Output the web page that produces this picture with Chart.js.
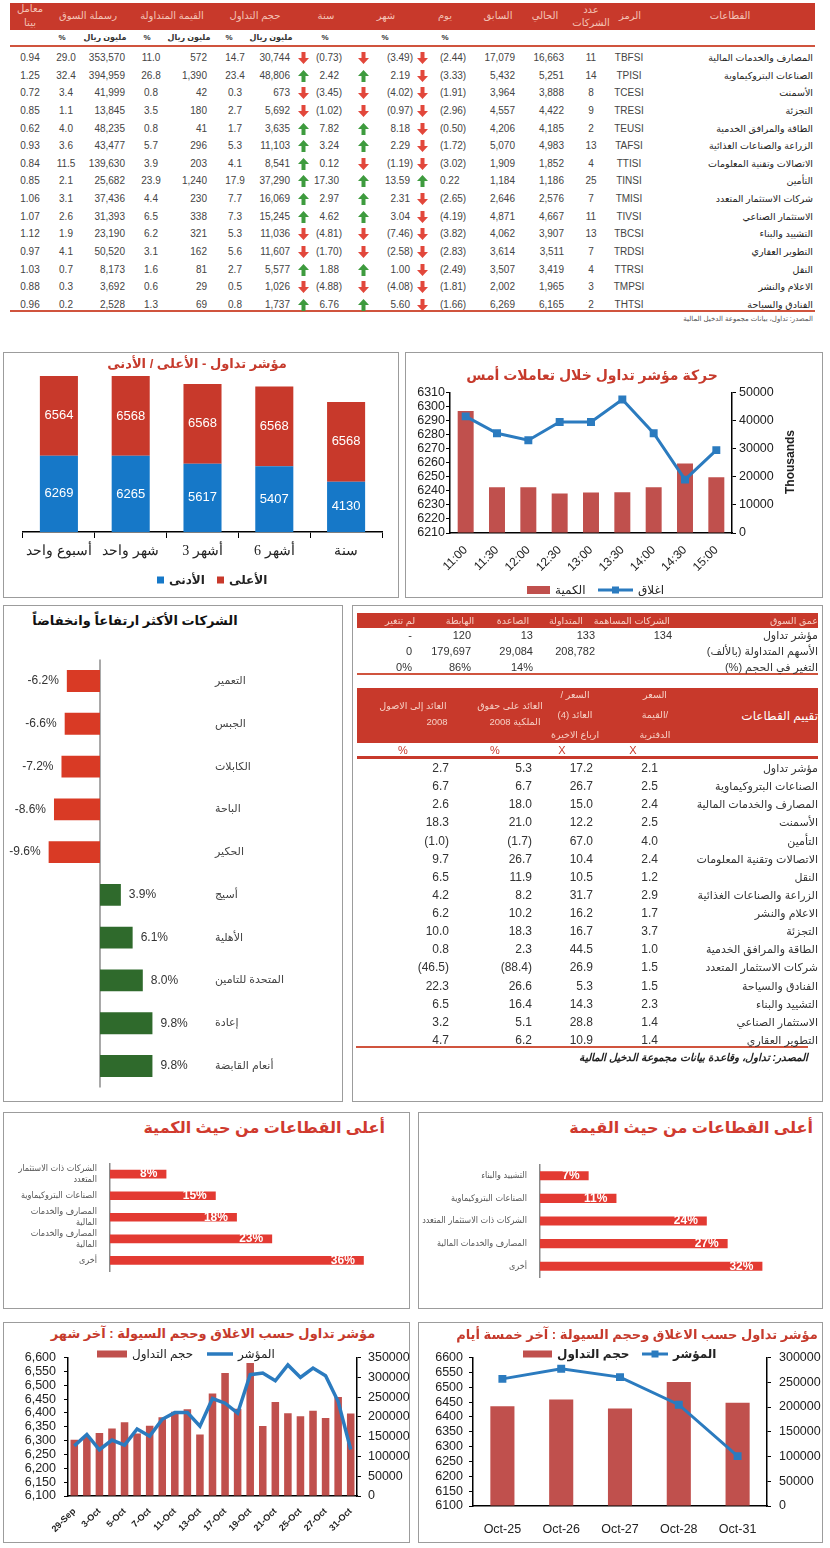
<!DOCTYPE html>
<html lang="ar">
<head>
<meta charset="utf-8">
<title>تداول</title>
<script src="https://cdn.jsdelivr.net/npm/chart.js@4.4.1/dist/chart.umd.min.js"></script>
<style>
  body { margin:0; width:830px; height:1548px; position:relative; overflow:hidden; background:#fff;
         font-family:'Liberation Sans','DejaVu Sans',sans-serif; color:#333; }
  .t { position:absolute; white-space:nowrap; line-height:16px; height:16px; }
  .box { position:absolute; box-sizing:border-box; border:1.5px solid #9c9c9c; }
  .band { position:absolute; background:#C8392B; }
  .rule { position:absolute; background:#D0543E; }
  canvas { position:absolute; }
</style>
</head>
<body>
<!-- panels -->
<div class="box" style="left:3px;top:352px;width:396px;height:246px"></div>
<div class="box" style="left:405px;top:352px;width:418px;height:246px"></div>
<div class="box" style="left:3px;top:605px;width:340px;height:497px"></div>
<div class="box" style="left:352px;top:605px;width:471px;height:497px"></div>
<div class="box" style="left:3px;top:1112px;width:407px;height:197px"></div>
<div class="box" style="left:418px;top:1112px;width:405px;height:197px"></div>
<div class="box" style="left:3px;top:1322px;width:407px;height:221px"></div>
<div class="box" style="left:418px;top:1322px;width:405px;height:221px"></div>

<!-- top table bands -->
<div class="band" style="left:10px;top:3px;width:805px;height:27px"></div>
<div class="rule" style="left:10px;top:45px;width:805px;height:2px"></div>
<div class="rule" style="left:10px;top:310px;width:805px;height:2px"></div>

<!-- right table bands -->
<div class="band" style="left:357px;top:613px;width:461px;height:15px"></div>
<div class="rule" style="left:357px;top:673px;width:461px;height:2px"></div>
<div class="band" style="left:357px;top:688px;width:461px;height:55px"></div>
<div class="rule" style="left:357px;top:756px;width:461px;height:3px;background:#C8392B"></div>
<div class="rule" style="left:356px;top:1046px;width:452px;height:1.5px"></div>

<canvas id="hiLow" width="392" height="228" style="left:5px;top:368px"></canvas>
<canvas id="intraday" width="414" height="214" style="left:407px;top:382px"></canvas>
<canvas id="movers" width="332" height="457" style="left:8px;top:645px"></canvas>
<canvas id="byQty" width="400" height="150" style="left:5px;top:1145px"></canvas>
<canvas id="byValue" width="400" height="150" style="left:420px;top:1146px"></canvas>
<canvas id="month" width="406" height="198" style="left:5px;top:1342px"></canvas>
<canvas id="fiveDays" width="403" height="198" style="left:420px;top:1342px"></canvas>

<script>
// ---------------- data ----------------
// sector table
const sectorNames = ['المصارف والخدمات المالية', 'الصناعات البتروكيماوية', 'الأسمنت', 'التجزئة', 'الطاقة والمرافق الخدمية',
  'الزراعة والصناعات الغذائية', 'الاتصالات وتقنية المعلومات', 'التأمين', 'شركات الاستثمار المتعدد', 'الاستثمار الصناعي',
  'التشييد والبناء', 'التطوير العقاري', 'النقل', 'الاعلام والنشر', 'الفنادق والسياحة'];
const sectorCodes = ['TBFSI', 'TPISI', 'TCESI', 'TRESI', 'TEUSI', 'TAFSI', 'TTISI', 'TINSI', 'TMISI', 'TIVSI', 'TBCSI', 'TRDSI', 'TTRSI', 'TMPSI', 'THTSI'];
const companyCount = [11, 14, 8, 9, 2, 13, 4, 25, 7, 11, 13, 7, 4, 3, 2];
const currentIdx = [16663, 5251, 3888, 4422, 4185, 4983, 1852, 1186, 2576, 4667, 3907, 3511, 3419, 1965, 6165];
const previousIdx = [17079, 5432, 3964, 4557, 4206, 5070, 1909, 1184, 2646, 4871, 4062, 3614, 3507, 2002, 6269];
const dayChg = [-2.44, -3.33, -1.91, -2.96, -0.50, -1.72, -3.02, 0.22, -2.65, -4.19, -3.82, -2.83, -2.49, -1.81, -1.66];
const monthChg = [-3.49, 2.19, -4.02, -0.97, 8.18, 2.29, -1.19, 13.59, 2.31, 3.04, -7.46, -2.58, 1.00, -4.08, 5.60];
const yearChg = [-0.73, 2.42, -3.45, -1.02, 7.82, 3.24, 0.12, 17.30, 2.97, 4.62, -4.81, -1.70, 1.88, -4.88, 6.76];
const tradeVolume = [30744, 48806, 673, 5692, 3635, 11103, 8541, 37290, 16069, 15245, 11036, 11607, 5577, 1026, 1737];
const tradeVolumePct = [14.7, 23.4, 0.3, 2.7, 1.7, 5.3, 4.1, 17.9, 7.7, 7.3, 5.3, 5.6, 2.7, 0.5, 0.8];
const tradeValue = [572, 1390, 42, 180, 41, 296, 203, 1240, 230, 338, 321, 162, 81, 29, 69];
const tradeValuePct = [11.0, 26.8, 0.8, 3.5, 0.8, 5.7, 3.9, 23.9, 4.4, 6.5, 6.2, 3.1, 1.6, 0.6, 1.3];
const marketCap = [353570, 394959, 41999, 13845, 48235, 43477, 139630, 25682, 37436, 31393, 23190, 50520, 8173, 3692, 2528];
const marketCapPct = [29.0, 32.4, 3.4, 1.1, 4.0, 3.6, 11.5, 2.1, 3.1, 2.6, 1.9, 4.1, 0.7, 0.3, 0.2];
const betaValues = [0.94, 1.25, 0.72, 0.85, 0.62, 0.93, 0.84, 0.85, 1.06, 1.07, 1.12, 0.97, 1.03, 0.88, 0.96];

// high / low chart
const periodLabels = ['أسبوع واحد', 'شهر واحد', 'أشهر 3', 'أشهر 6', 'سنة'];
const lowValues = [6269, 6265, 5617, 5407, 4130];
const highValues = [6564, 6568, 6568, 6568, 6568];

// intraday chart
const hourLabels = ['11:00', '11:30', '12:00', '12:30', '13:00', '13:30', '14:00', '14:30', '15:00'];
const hourClose = [6293, 6281, 6276, 6289, 6289, 6305, 6281, 6248, 6269];
const hourQty = [43400, 16300, 16300, 14100, 14400, 14500, 16300, 24700, 19800];

// top movers
const moverNames = ['التعمير', 'الجبس', 'الكابلات', 'الباحة', 'الحكير', 'أسيج', 'الأهلية', 'المتحدة للتامين', 'إعادة', 'أنعام القابضة'];
const moverChg = [-6.2, -6.6, -7.2, -8.6, -9.6, 3.9, 6.1, 8.0, 9.8, 9.8];

// market depth
const depthHeads = ['عمق السوق', 'الشركات المساهمة', 'المتداولة', 'الصاعدة', 'الهابطة', 'لم تتغير'];
const depthRowNames = ['مؤشر تداول', 'الأسهم المتداولة (بالألف)', 'التغير في الحجم (%)'];
const depthRows = [['134', '133', '13', '120', '-'], ['', '208,782', '29,084', '179,697', '0'], ['', '', '14%', '86%', '0%']];

// sector valuation
const valSectors = ['مؤشر تداول', 'الصناعات البتروكيماوية', 'المصارف والخدمات المالية', 'الأسمنت', 'التأمين',
  'الاتصالات وتقنية المعلومات', 'النقل', 'الزراعة والصناعات الغذائية', 'الاعلام والنشر', 'التجزئة',
  'الطاقة والمرافق الخدمية', 'شركات الاستثمار المتعدد', 'الفنادق والسياحة', 'التشييد والبناء', 'الاستثمار الصناعي', 'التطوير العقاري'];
const priceToBook = [2.1, 2.5, 2.4, 2.5, 4.0, 2.4, 1.2, 2.9, 1.7, 3.7, 1.0, 1.5, 1.5, 2.3, 1.4, 1.4];
const priceToEarn = [17.2, 26.7, 15.0, 12.2, 67.0, 10.4, 10.5, 31.7, 16.2, 16.7, 44.5, 26.9, 5.3, 14.3, 28.8, 10.9];
const returnOnEquity = [5.3, 6.7, 18.0, 21.0, -1.7, 26.7, 11.9, 8.2, 10.2, 18.3, 2.3, -88.4, 26.6, 16.4, 5.1, 6.2];
const returnOnAssets = [2.7, 6.7, 2.6, 18.3, -1.0, 9.7, 6.5, 4.2, 6.2, 10.0, 0.8, -46.5, 22.3, 6.5, 3.2, 4.7];

// top sectors by quantity / value
const qtySectors = [['الشركات ذات الاستثمار', 'المتعدد'], 'الصناعات البتروكيماوية', ['المصارف والخدمات', 'المالية'], ['المصارف والخدمات', 'المالية'], 'أخرى'];
const qtyShare = [8, 15, 18, 23, 36];
const valueSectors = ['التشييد والبناء', 'الصناعات البتروكيماوية', 'الشركات ذات الاستثمار المتعدد', 'المصارف والخدمات المالية', 'أخرى'];
const valueShare = [7, 11, 24, 27, 32];

// last month
const monthDates = ['29-Sep', '30-Sep', '3-Oct', '4-Oct', '5-Oct', '6-Oct', '7-Oct', '10-Oct', '11-Oct', '12-Oct', '13-Oct', '14-Oct',
  '17-Oct', '18-Oct', '19-Oct', '20-Oct', '21-Oct', '24-Oct', '25-Oct', '26-Oct', '27-Oct', '28-Oct', '31-Oct'];
const monthClose = [6281, 6322, 6267, 6302, 6284, 6342, 6316, 6377, 6401, 6401, 6352, 6452,
  6435, 6399, 6538, 6544, 6516, 6573, 6528, 6562, 6534, 6441, 6268];
const monthVolume = [142300, 150000, 159200, 170800, 186200, 157700, 177700, 199200, 213100, 219200, 155400, 259200,
  310800, 220800, 336200, 176900, 237700, 209200, 201500, 215200, 197000, 250400, 208700];

// last five days
const fiveDates = ['Oct-25', 'Oct-26', 'Oct-27', 'Oct-28', 'Oct-31'];
const fiveClose = [6528, 6562, 6534, 6441, 6268];
const fiveVolume = [201500, 215200, 197000, 250400, 208700];

// ---------------- html text helpers ----------------
function put(str, x, y, align, css) {
  const d = document.createElement('div');
  d.className = 't';
  d.textContent = str;
  if (align === 'r') { d.style.left = (x - 400) + 'px'; d.style.width = '400px'; d.style.textAlign = 'right'; }
  else if (align === 'c') { d.style.left = (x - 200) + 'px'; d.style.width = '400px'; d.style.textAlign = 'center'; }
  else { d.style.left = x + 'px'; }
  d.style.top = (y - 8) + 'px';
  if (css) d.style.cssText += css;
  document.body.appendChild(d);
  return d;
}

function arrow(x, y, up) {
  const ns = 'http://www.w3.org/2000/svg';
  const s = document.createElementNS(ns, 'svg');
  s.setAttribute('width', 11); s.setAttribute('height', 12);
  s.style.position = 'absolute'; s.style.left = (x - 5.5) + 'px'; s.style.top = (y - 6) + 'px';
  const p = document.createElementNS(ns, 'polygon');
  p.setAttribute('points', up ? '3.5,12 7.5,12 7.5,6 11,6 5.5,0 0,6 3.5,6' : '3.5,0 7.5,0 7.5,6 11,6 5.5,12 0,6 3.5,6');
  p.setAttribute('fill', up ? '#3E9B3E' : '#E2473B');
  s.appendChild(p);
  document.body.appendChild(s);
}

const paren2 = v => v < 0 ? '(' + Math.abs(v).toFixed(2) + ')' : v.toFixed(2);
const paren1 = v => v < 0 ? '(' + Math.abs(v).toFixed(1) + ')' : v.toFixed(1);
const num = v => v.toLocaleString('en-US');

// ---------------- top table ----------------
const HEAD = 'font-size:10px;color:#F4C3B6;';
put('القطاعات', 730, 16, 'c', HEAD);
put('الرمز', 630, 16, 'c', HEAD);
put('عدد', 591, 10, 'c', HEAD);
put('الشركات', 591, 23, 'c', HEAD);
put('الحالي', 545, 16, 'c', HEAD);
put('السابق', 498, 16, 'c', HEAD);
put('يوم', 445, 16, 'c', HEAD);
put('شهر', 386, 16, 'c', HEAD);
put('سنة', 326, 16, 'c', HEAD);
put('حجم التداول', 255, 16, 'c', HEAD);
put('القيمة المتداولة', 172, 16, 'c', HEAD);
put('رسملة السوق', 88, 16, 'c', HEAD);
put('معامل', 30, 9, 'c', HEAD);
put('بيتا', 30, 23, 'c', HEAD);

const UNIT = 'font-size:8px;font-weight:bold;color:#333;';
[[62, '%'], [105, 'مليون ريال'], [147, '%'], [189, 'مليون ريال'], [229, '%'], [271, 'مليون ريال'], [325, '%'], [385, '%'], [445, '%']]
  .forEach(u => put(u[1], u[0], 38, 'c', UNIT));

const ROW = 'font-size:10px;color:#444;';
sectorNames.forEach((name, i) => {
  const y = 58 + i * 17.64;
  put(name, 813, y, 'r', 'font-size:9.5px;color:#222;direction:rtl;');
  put(sectorCodes[i], 629, y, 'c', ROW);
  put(String(companyCount[i]), 591, y, 'c', ROW);
  put(num(currentIdx[i]), 564, y, 'r', ROW);
  put(num(previousIdx[i]), 515, y, 'r', ROW);
  arrow(422, y, dayChg[i] > 0);
  put(paren2(dayChg[i]), 440, y, 'l', ROW);
  put(paren2(monthChg[i]), monthChg[i] < 0 ? 413 : 410, y, 'r', ROW);
  arrow(363, y, monthChg[i] > 0);
  put(paren2(yearChg[i]), yearChg[i] < 0 ? 342 : 339, y, 'r', ROW);
  arrow(303, y, yearChg[i] > 0);
  put(num(tradeVolume[i]), 290, y, 'r', ROW);
  put(tradeVolumePct[i].toFixed(1), 235, y, 'c', ROW);
  put(num(tradeValue[i]), 207, y, 'r', ROW);
  put(tradeValuePct[i].toFixed(1), 151, y, 'c', ROW);
  put(num(marketCap[i]), 125, y, 'r', ROW);
  put(marketCapPct[i].toFixed(1), 66, y, 'c', ROW);
  put(betaValues[i].toFixed(2), 30, y, 'c', ROW);
});
put('المصدر: تداول، بيانات مجموعة الدخيل المالية', 813, 319, 'r', 'font-size:7px;color:#555;direction:rtl;');

// ---------------- panel titles ----------------
const TITLE = 'font-weight:bold;color:#C63A2C;direction:rtl;';
put('مؤشر تداول - الأعلى / الأدنى', 197, 364, 'c', TITLE + 'font-size:13px;');
put('حركة مؤشر تداول خلال تعاملات أمس', 592, 375, 'c', TITLE + 'font-size:14px;');
put('الشركات الأكثر ارتفاعاً وانخفاضاً', 135, 621, 'c', 'font-weight:bold;color:#111;direction:rtl;font-size:13px;');
put('أعلى القطاعات من حيث الكمية', 385, 1128, 'r', TITLE + 'font-size:16px;color:#D03A2E;');
put('أعلى القطاعات من حيث القيمة', 813, 1128, 'r', TITLE + 'font-size:16px;color:#D03A2E;');
put('مؤشر تداول حسب الاغلاق وحجم السيولة : آخر شهر', 213, 1334, 'c', TITLE + 'font-size:13px;');
put('مؤشر تداول حسب الاغلاق وحجم السيولة : آخر خمسة أيام', 637, 1335, 'c', TITLE + 'font-size:13px;');
// right axis title of the intraday chart, reading upwards
put('Thousands', 790, 462, 'c', 'font-size:12px;font-weight:bold;color:#222;transform:rotate(-90deg);');

// ---------------- right tables ----------------
const PH = 'font-size:9.5px;color:#F6CFC4;direction:rtl;';
put(depthHeads[0], 818, 621, 'r', PH);
put(depthHeads[1], 670, 621, 'r', PH);
put(depthHeads[2], 583, 621, 'r', PH);
put(depthHeads[3], 513, 621, 'c', PH);
put(depthHeads[4], 460, 621, 'c', PH);
put(depthHeads[5], 400, 621, 'c', PH);
const depthX = [672, 595, 533, 471, 412];
depthRowNames.forEach((name, r) => {
  const y = 635 + r * 16;
  put(name, 818, y, 'r', 'font-size:11px;color:#333;direction:rtl;');
  depthRows[r].forEach((v, c) => { if (v) put(v, depthX[c], y, 'r', 'font-size:11px;color:#333;'); });
});

put('تقييم القطاعات', 818, 716, 'r', 'font-size:12px;color:#fff;direction:rtl;');
put('السعر', 655, 695, 'c', PH);
put('/القيمة', 655, 715, 'c', PH);
put('الدفترية', 655, 735, 'c', PH);
put('السعر /', 575, 695, 'c', PH);
put('العائد (4)', 575, 715, 'c', PH);
put('ارباع الاخيرة', 575, 735, 'c', PH);
put('العائد على حقوق', 510, 706, 'c', PH);
put('الملكية  2008', 515, 722, 'c', PH);
put('العائد إلى الاصول', 413, 706, 'c', PH);
put('2008', 437, 722, 'c', PH + 'direction:ltr;');
[[403, '%'], [495, '%'], [562, 'X'], [633, 'X']].forEach(u => put(u[1], u[0], 750, 'c', 'font-size:11px;color:#C8392B;'));

const VR = 'font-size:12px;color:#333;';
valSectors.forEach((name, i) => {
  const y = 768 + i * 18.13;
  put(name, 818, y, 'r', 'font-size:11px;color:#333;direction:rtl;');
  put(priceToBook[i].toFixed(1), 658, y, 'r', VR);
  put(priceToEarn[i].toFixed(1), 593, y, 'r', VR);
  put(paren1(returnOnEquity[i]), 532, y, 'r', VR);
  put(paren1(returnOnAssets[i]), 449, y, 'r', VR);
});
put('المصدر: تداول، وقاعدة بيانات مجموعة الدخيل المالية', 808, 1057, 'r',
  'font-size:10.5px;font-weight:bold;font-style:italic;color:#222;direction:rtl;');

// ---------------- chart plugins ----------------
const FONT = '"Liberation Sans","DejaVu Sans",sans-serif';
const NARROW = '"DejaVu Sans Condensed","DejaVu Sans",sans-serif';

const valueLabels = {
  id: 'valueLabels',
  afterDatasetsDraw(chart, args, o) {
    if (!o.mode) return;
    const ctx = chart.ctx;
    ctx.save();
    ctx.font = o.font;
    ctx.fillStyle = o.color;
    ctx.textBaseline = 'middle';
    chart.data.datasets.forEach((ds, di) => {
      if (ds.type === 'line') return;
      chart.getDatasetMeta(di).data.forEach((el, i) => {
        const v = ds.data[i];
        const txt = v.toFixed(o.decimals || 0) + (o.suffix || '');
        if (o.mode === 'center') {
          const p = el.getCenterPoint();
          ctx.textAlign = 'center';
          ctx.fillText(txt, p.x, p.y);
        } else if (o.mode === 'insideEnd') {
          ctx.textAlign = 'right';
          ctx.fillText(txt, el.x - o.gap, el.y);
        } else {
          ctx.textAlign = v < 0 ? 'right' : 'left';
          ctx.fillText(txt, v < 0 ? el.x - o.gap : el.x + o.gap, el.y);
        }
      });
    });
    ctx.restore();
  }
};

const inlineLegend = {
  id: 'inlineLegend',
  afterDraw(chart, args, o) {
    if (!o.items) return;
    const ctx = chart.ctx;
    ctx.save();
    ctx.font = o.font;
    ctx.textBaseline = 'middle';
    o.items.forEach(it => {
      const ds = chart.data.datasets[it.ds];
      if (ds.type === 'line') {
        ctx.strokeStyle = ds.borderColor;
        ctx.lineWidth = ds.borderWidth;
        ctx.beginPath();
        ctx.moveTo(it.x, it.y);
        ctx.lineTo(it.x + it.w, it.y);
        ctx.stroke();
        if (ds.pointRadius) {
          ctx.fillStyle = ds.borderColor;
          ctx.fillRect(it.x + it.w / 2 - 3.5, it.y - 3.5, 7, 7);
        }
      } else {
        ctx.fillStyle = ds.backgroundColor;
        ctx.fillRect(it.x, it.y - it.h / 2, it.w, it.h);
      }
      ctx.fillStyle = o.color;
      ctx.textAlign = 'left';
      ctx.fillText(ds.label, it.x + it.w + 5, it.y + 1);
    });
    ctx.restore();
  }
};

const zeroLine = {
  id: 'zeroLine',
  beforeDatasetsDraw(chart, args, o) {
    if (!o.color) return;
    const x = chart.scales.x.getPixelForValue(0);
    const ctx = chart.ctx;
    ctx.save();
    ctx.strokeStyle = o.color;
    ctx.lineWidth = o.width;
    ctx.beginPath();
    ctx.moveTo(x, chart.chartArea.top);
    ctx.lineTo(x, chart.chartArea.bottom);
    ctx.stroke();
    ctx.restore();
  }
};

Chart.register(valueLabels, inlineLegend, zeroLine);
Chart.defaults.font.family = FONT;
Chart.defaults.color = '#222';
Chart.defaults.animation = false;
Chart.defaults.responsive = false;
Chart.defaults.plugins.legend.display = false;
Chart.defaults.plugins.tooltip.enabled = false;

const RED = '#C0504D';
const BLUE = '#2B7BBF';
const plain = v => String(v);
const comma = v => v.toLocaleString('en-US');

function valueAxis(pos, min, max, step, width, pad, fmt) {
  return {
    position: pos, min: min, max: max,
    ticks: { stepSize: step, autoSkip: false, font: { size: 12.5 }, padding: pad, callback: fmt },
    grid: { drawOnChartArea: false, tickLength: 4, color: '#000' },
    border: { color: '#000', width: 1.5 },
    afterFit: s => { s.width = width; }
  };
}

// ---------------- high / low ----------------
new Chart(document.getElementById('hiLow'), {
  type: 'bar',
  data: {
    labels: periodLabels,
    datasets: [
      { label: 'الأدنى', data: lowValues, backgroundColor: '#1678C8', barPercentage: 0.53, categoryPercentage: 1 },
      { label: 'الأعلى', data: highValues, backgroundColor: '#C8392B', barPercentage: 0.53, categoryPercentage: 1 }
    ]
  },
  options: {
    layout: { padding: { left: 18, right: 15, top: 6, bottom: 0 } },
    scales: {
      x: {
        stacked: true,
        grid: { display: true, drawOnChartArea: false, tickLength: 6, color: '#000', offset: true },
        border: { color: '#000', width: 1.5 },
        ticks: { minRotation: 0, maxRotation: 0, autoSkip: false,
                 font: { family: '"Liberation Serif","DejaVu Serif",serif', size: 14 }, color: '#222', padding: 5 },
        afterFit: s => { s.height = 64; }
      },
      y: { stacked: true, display: false, min: 0, max: 13000 }
    },
    plugins: {
      valueLabels: { mode: 'center', color: '#fff', font: '13px ' + FONT },
      inlineLegend: {
        font: 'bold 12px ' + FONT, color: '#222',
        items: [{ ds: 0, x: 152, y: 212, w: 7, h: 7 }, { ds: 1, x: 212, y: 212, w: 7, h: 7 }]
      }
    }
  }
});

// ---------------- intraday ----------------
new Chart(document.getElementById('intraday'), {
  type: 'bar',
  data: {
    labels: hourLabels,
    datasets: [
      { type: 'line', label: 'اغلاق', data: hourClose, yAxisID: 'y', borderColor: BLUE, borderWidth: 3,
        pointStyle: 'rect', pointRadius: 3.5, pointBackgroundColor: BLUE, pointBorderColor: BLUE },
      { type: 'bar', label: 'الكمية', data: hourQty, yAxisID: 'y1', backgroundColor: RED, barPercentage: 0.51, categoryPercentage: 1 }
    ]
  },
  options: {
    layout: { padding: { top: 10, right: 20, left: 0, bottom: 0 } },
    scales: {
      x: {
        offset: true,
        grid: { display: false },
        border: { color: '#000', width: 1.5 },
        ticks: { minRotation: 45, maxRotation: 45, font: { size: 12 }, padding: 2 },
        afterFit: s => { s.height = 63; }
      },
      y: valueAxis('left', 6210, 6310, 10, 43, 1, plain),
      y1: valueAxis('right', 0, 50000, 10000, 69, 3, plain)
    },
    plugins: {
      inlineLegend: {
        font: '12px ' + FONT, color: '#222',
        items: [{ ds: 1, x: 120, y: 208, w: 23, h: 8 }, { ds: 0, x: 191, y: 208, w: 35 }]
      }
    }
  }
});

// ---------------- movers ----------------
new Chart(document.getElementById('movers'), {
  type: 'bar',
  data: {
    labels: moverNames,
    datasets: [{
      label: 'التغير', data: moverChg,
      backgroundColor: moverChg.map(v => v < 0 ? '#D93A25' : '#2F6A2C'),
      barPercentage: 0.51, categoryPercentage: 1
    }]
  },
  options: {
    indexAxis: 'y',
    layout: { padding: { left: 6.4, top: 7, bottom: 2, right: 0 } },
    scales: {
      x: { display: false, min: -16, max: 20 },
      y: {
        position: 'right',
        grid: { display: false, drawTicks: false },
        border: { display: false },
        ticks: { font: { size: 11 }, color: '#444', padding: 8 },
        afterFit: s => { s.width = 133; }
      }
    },
    plugins: {
      zeroLine: { color: '#8c8c8c', width: 1.5 },
      valueLabels: { mode: 'outside', gap: 8, decimals: 1, suffix: '%', color: '#333', font: '12px ' + FONT }
    }
  }
});

// ---------------- top sectors (quantity / value) ----------------
function shareChart(id, labels, values, yWidth, padRight) {
  new Chart(document.getElementById(id), {
    type: 'bar',
    data: {
      labels: labels,
      datasets: [{ label: 'النسبة', data: values, backgroundColor: '#E33A32', barPercentage: 0.4, categoryPercentage: 1 }]
    },
    options: {
      indexAxis: 'y',
      layout: { padding: { top: 6, bottom: 6, right: padRight, left: 0 } },
      scales: {
        x: { display: false, min: 0, max: 40 },
        y: {
          grid: { display: false, drawTicks: false },
          border: { display: true, color: '#8a8a8a', width: 1.5 },
          ticks: { font: { size: 9, family: NARROW }, color: '#555', padding: 13 },
          afterFit: s => { s.width = yWidth; }
        }
      },
      plugins: {
        valueLabels: { mode: 'insideEnd', gap: 9, decimals: 0, suffix: '%', color: '#fff', font: 'bold 12px ' + FONT }
      }
    }
  });
}
shareChart('byQty', qtySectors, qtyShare, 105, 13);
shareChart('byValue', valueSectors, valueShare, 120, 2);

// ---------------- last month ----------------
new Chart(document.getElementById('month'), {
  type: 'bar',
  data: {
    labels: monthDates,
    datasets: [
      { type: 'line', label: 'المؤشر', data: monthClose, yAxisID: 'y', borderColor: BLUE, borderWidth: 3.5, pointRadius: 0 },
      { type: 'bar', label: 'حجم التداول', data: monthVolume, yAxisID: 'y1', backgroundColor: RED, barPercentage: 0.6, categoryPercentage: 1 }
    ]
  },
  options: {
    layout: { padding: { top: 2, left: 0, right: 0, bottom: 0 } },
    scales: {
      x: {
        offset: true,
        grid: { display: false },
        border: { color: '#000', width: 1.5 },
        ticks: {
          autoSkip: false, minRotation: 45, maxRotation: 45, font: { size: 9, weight: 'bold' }, padding: 2,
          callback: (v, i) => i % 2 === 0 ? monthDates[i] : ''
        },
        afterFit: s => { s.height = 44; }
      },
      y: valueAxis('left', 6100, 6600, 50, 63, 8, comma),
      y1: valueAxis('right', 0, 350000, 50000, 54, 7, plain)
    },
    plugins: {
      inlineLegend: {
        font: '12px ' + FONT, color: '#222',
        items: [{ ds: 1, x: 92, y: 12, w: 30, h: 7 }, { ds: 0, x: 202, y: 12, w: 26 }]
      }
    }
  }
});

// ---------------- last five days ----------------
new Chart(document.getElementById('fiveDays'), {
  type: 'bar',
  data: {
    labels: fiveDates,
    datasets: [
      { type: 'line', label: 'المؤشر', data: fiveClose, yAxisID: 'y', borderColor: BLUE, borderWidth: 3,
        pointStyle: 'rect', pointRadius: 3.5, pointBackgroundColor: BLUE, pointBorderColor: BLUE },
      { type: 'bar', label: 'حجم التداول', data: fiveVolume, yAxisID: 'y1', backgroundColor: RED, barPercentage: 0.41, categoryPercentage: 1 }
    ]
  },
  options: {
    layout: { padding: { top: 10, left: 0, right: 0, bottom: 0 } },
    scales: {
      x: {
        offset: true,
        grid: { display: false },
        border: { color: '#000', width: 1.5 },
        ticks: { font: { size: 12.5 }, padding: 8 },
        afterFit: s => { s.height = 34; }
      },
      y: valueAxis('left', 6100, 6600, 50, 53, 6, plain),
      y1: valueAxis('right', 0, 300000, 50000, 56, 8, plain)
    },
    plugins: {
      inlineLegend: {
        font: 'bold 12px ' + FONT, color: '#222',
        items: [{ ds: 1, x: 103, y: 12, w: 29, h: 7 }, { ds: 0, x: 222, y: 12, w: 26 }]
      }
    }
  }
});
</script>
</body>
</html>
